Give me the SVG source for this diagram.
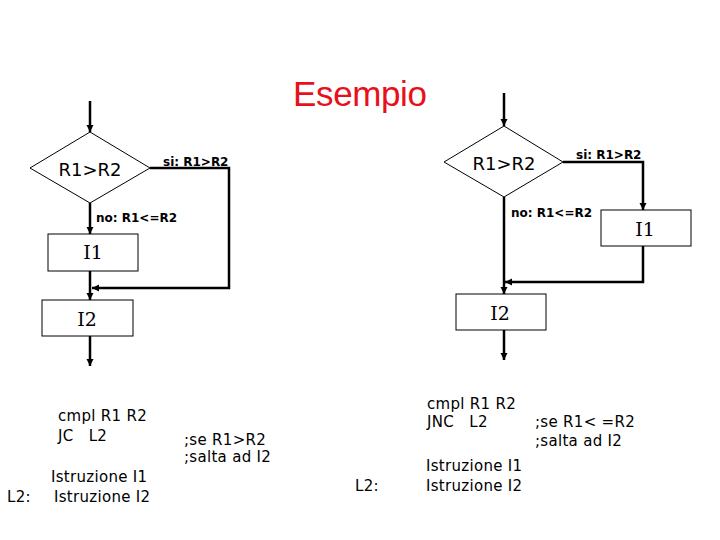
<svg xmlns="http://www.w3.org/2000/svg" width="720" height="540" viewBox="0 0 720 540">
<style>
.shape{fill:#fff;stroke:#000;stroke-width:1}
.conn{fill:none;stroke:#000;stroke-width:2.5}
.lbl{font-family:"DejaVu Sans",sans-serif;font-size:18px;fill:#000}
.big{font-family:"DejaVu Serif","Liberation Serif",serif;font-size:19px;fill:#000}
.sm{font-family:"DejaVu Sans",sans-serif;font-size:12px;font-weight:bold;fill:#000}
.code{font-family:"DejaVu Sans",sans-serif;font-size:15px;letter-spacing:0.3px;fill:#000}
.title{font-family:"Liberation Sans",sans-serif;font-size:35px;fill:#e8101a}
</style>
<defs>
<marker id="ah" markerUnits="userSpaceOnUse" markerWidth="8" markerHeight="8" refX="7" refY="4" orient="auto">
<path d="M0,0.5 L7,4 L0,7.5 z" fill="#000"/>
</marker>
</defs>
<text class="title" x="293" y="106" textLength="134">Esempio</text>

<g id="connectors">
<!-- left -->
<line class="conn" x1="90" y1="101" x2="90" y2="132" marker-end="url(#ah)"/>
<line class="conn" x1="90" y1="203" x2="90" y2="234" marker-end="url(#ah)"/>
<polyline class="conn" points="150,168 229,168 229,288 92,288" marker-end="url(#ah)"/>
<line class="conn" x1="90" y1="271" x2="90" y2="300" marker-end="url(#ah)"/>
<line class="conn" x1="90" y1="336" x2="90" y2="366" marker-end="url(#ah)"/>
<!-- right -->
<line class="conn" x1="504" y1="93" x2="504" y2="126" marker-end="url(#ah)"/>
<polyline class="conn" points="563,162 643,162 643,210" marker-end="url(#ah)"/>
<polyline class="conn" points="643,246 643,282 505,282" marker-end="url(#ah)"/>
<line class="conn" x1="504" y1="197" x2="504" y2="294" marker-end="url(#ah)"/>
<line class="conn" x1="504" y1="330" x2="504" y2="360" marker-end="url(#ah)"/>
</g>

<g id="cond-left">
<polygon class="shape" points="90,132 150,168 90,203 30,168"/>
<text class="lbl" x="90" y="176" text-anchor="middle">R1&gt;R2</text>
</g>
<g id="i1-left">
<rect class="shape" x="48" y="234" width="90" height="37"/>
<text class="big" x="93" y="259" text-anchor="middle">I1</text>
</g>
<g id="i2-left">
<rect class="shape" x="42" y="300" width="91" height="36"/>
<text class="big" x="87" y="326" text-anchor="middle">I2</text>
</g>
<g id="labels-left">
<text class="sm" x="163" y="166">si: R1&gt;R2</text>
<text class="sm" x="96" y="222">no: R1&lt;=R2</text>
</g>

<g id="cond-right">
<polygon class="shape" points="504,126 563,162 504,197 444,162"/>
<text class="lbl" x="504" y="170" text-anchor="middle">R1&gt;R2</text>
</g>
<g id="i1-right">
<rect class="shape" x="601" y="210" width="90" height="36"/>
<text class="big" x="645" y="236" text-anchor="middle">I1</text>
</g>
<g id="i2-right">
<rect class="shape" x="456" y="294" width="90" height="36"/>
<text class="big" x="500" y="320" text-anchor="middle">I2</text>
</g>
<g id="labels-right">
<text class="sm" x="576" y="159">si: R1&gt;R2</text>
<text class="sm" x="511" y="217">no: R1&lt;=R2</text>
</g>

<g id="code-left">
<text class="code" x="58" y="421">cmpl R1 R2</text>
<text class="code" x="58" y="441" xml:space="preserve">JC   L2</text>
<text class="code" x="184" y="445">;se R1&gt;R2</text>
<text class="code" x="184" y="462">;salta ad I2</text>
<text class="code" x="51" y="482">Istruzione I1</text>
<text class="code" x="7" y="502">L2:</text>
<text class="code" x="54" y="502">Istruzione I2</text>
</g>

<g id="code-right">
<text class="code" x="427" y="409">cmpl R1 R2</text>
<text class="code" x="427" y="427" xml:space="preserve">JNC   L2</text>
<text class="code" x="535" y="427" xml:space="preserve">;se R1&lt; =R2</text>
<text class="code" x="535" y="446">;salta ad I2</text>
<text class="code" x="426" y="471">Istruzione I1</text>
<text class="code" x="355" y="491">L2:</text>
<text class="code" x="426" y="491">Istruzione I2</text>
</g>
</svg>
